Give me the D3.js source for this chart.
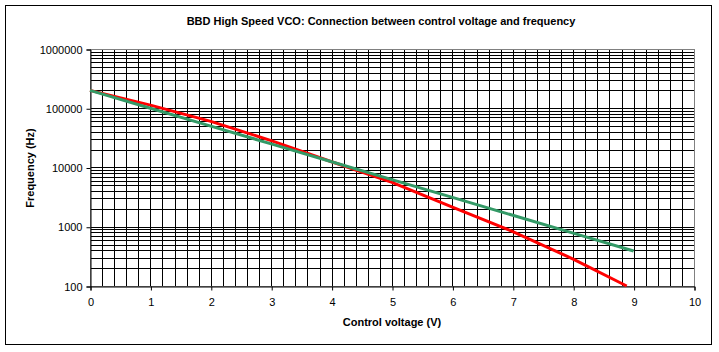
<!DOCTYPE html>
<meta charset="utf-8">
<body>
<script src="https://cdn.jsdelivr.net/npm/d3@7"></script>
<style>
    html, body {
        margin: 0;
        background: #fff;
    }
    text {
        font-family: "Liberation Sans", Arial, sans-serif;
    }
</style>
<script>
var width = 719,
    height = 352;

// values
var volts = [0, 1, 2, 3, 4, 5, 6, 7, 8, 8.886];
var redHz = [200000, 113000, 60000, 28400, 12500, 5600, 2150, 830, 285, 100];
var greenVolts = [0, 1, 2, 3, 4, 5, 6, 7, 8, 9];
var greenHz = [200000, 100000, 50000, 25000, 12500, 6250, 3125, 1560, 780, 390];
var xTicks = [0, 1, 2, 3, 4, 5, 6, 7, 8, 9, 10];
var yTicks = [100, 1000, 10000, 100000, 1000000];

var svg = d3.select("body").append("svg")
    .attr("width", width)
    .attr("height", height);

svg.append("rect")
    .attr("x", 5.5).attr("y", 5.5)
    .attr("width", 706).attr("height", 339)
    .attr("fill", "#fff").attr("stroke", "#000");

var x = d3.scaleLinear().domain([0, 10]).range([90, 694]),
    y = d3.scaleLog().domain([100, 1000000]).range([286, 49]);

// grid
var vlines = d3.range(1, 50).map(function(i) { return i * 0.2; });
svg.append("g").selectAll("line")
    .data(vlines)
    .enter().append("line")
    .attr("x1", function(d) { return Math.round(x(d)) + 0.5; })
    .attr("x2", function(d) { return Math.round(x(d)) + 0.5; })
    .attr("y1", y(1000000)).attr("y2", y(100))
    .attr("stroke", "#000");

var hlines = [];
[100, 1000, 10000, 100000].forEach(function(dec) {
    for (var k = 1; k <= 9; k++) hlines.push(dec * k);
});
svg.append("g").selectAll("line")
    .data(hlines.filter(function(d) { return d > 100; }))
    .enter().append("line")
    .attr("x1", x(0)).attr("x2", x(10))
    .attr("y1", function(d) { return Math.round(y(d)) + 0.5; })
    .attr("y2", function(d) { return Math.round(y(d)) + 0.5; })
    .attr("stroke", "#000");

// plot border
svg.append("rect")
    .attr("x", x(0) + 0.5).attr("y", y(1000000) + 0.5)
    .attr("width", x(10) - x(0)).attr("height", y(100) - y(1000000))
    .attr("fill", "none").attr("stroke", "#808080");

// axes
var xAxis = svg.append("g")
    .attr("transform", "translate(0.5," + (y(100) + 0.5) + ")")
    .call(d3.axisBottom(x).tickValues(xTicks).tickSize(4).tickPadding(8).tickFormat(d3.format("d")));
var yAxis = svg.append("g")
    .attr("transform", "translate(" + (x(0) + 0.5) + ",0.5)")
    .call(d3.axisLeft(y).tickValues(yTicks).tickSize(4).tickPadding(4).tickFormat(d3.format("d")));

[xAxis, yAxis].forEach(function(a) {
    a.select(".domain").attr("stroke", "#000");
    a.selectAll(".tick line").attr("stroke", "#000");
    a.selectAll(".tick text")
        .attr("font-size", 11)
        .attr("font-family", "'Liberation Sans', Arial, sans-serif")
        .attr("fill", "#000");
});

// series
var line = d3.line()
    .x(function(d) { return x(d[0]); })
    .y(function(d) { return y(d[1]); });

svg.append("path")
    .datum(d3.zip(volts, redHz))
    .attr("d", line)
    .attr("fill", "none")
    .attr("stroke", "#ff0000")
    .attr("stroke-width", 3);

svg.append("path")
    .datum(d3.zip(greenVolts, greenHz))
    .attr("d", line)
    .attr("fill", "none")
    .attr("stroke", "#339966")
    .attr("stroke-width", 3);

// titles
svg.append("text")
    .attr("x", 381).attr("y", 25)
    .attr("text-anchor", "middle")
    .attr("font-size", 11).attr("font-weight", "bold")
    .text("BBD High Speed VCO: Connection between control voltage and frequency");

svg.append("text")
    .attr("x", 392).attr("y", 326)
    .attr("text-anchor", "middle")
    .attr("font-size", 11).attr("font-weight", "bold")
    .text("Control voltage (V)");

svg.append("text")
    .attr("transform", "translate(34,168)rotate(-90)")
    .attr("text-anchor", "middle")
    .attr("font-size", 11).attr("font-weight", "bold")
    .text("Frequency (Hz)");
</script>
